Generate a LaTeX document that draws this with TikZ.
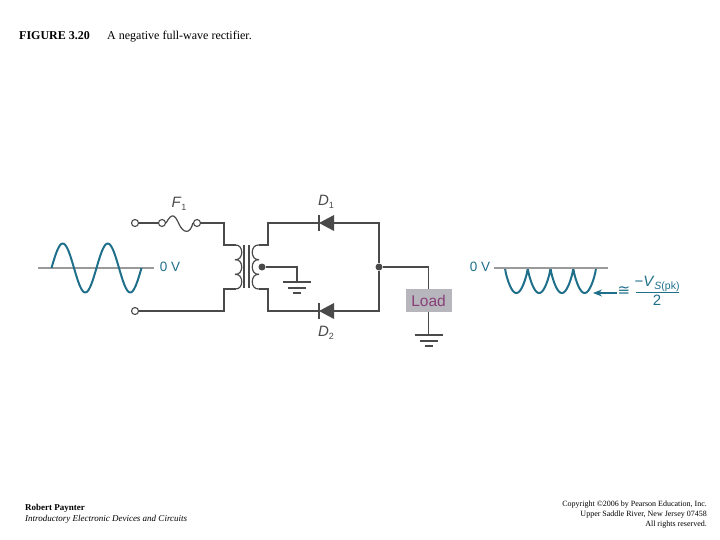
\documentclass[tikz,border=0pt]{standalone}
\usepackage{amsmath,amssymb}
\usepackage{fontspec}
\setmainfont{Liberation Serif}
\setsansfont{Liberation Sans}
\newfontfamily\symfont{DejaVu Sans}
\usepackage{tikz}
\usetikzlibrary{arrows.meta}
\definecolor{wave}{HTML}{1F6F8B}
\definecolor{wire}{HTML}{4A4A4A}
\definecolor{axis}{HTML}{9A9A9A}
\definecolor{loadbox}{HTML}{B6B6BC}
\definecolor{loadtext}{HTML}{8A3F78}
\tikzset{
	terminal/.style={
		inner sep = 0pt,
		minimum size = 7pt,
		shape = circle,
		draw = wire,
		line width = 1.1pt,
		fill = white
	},
	junction/.style={
		inner sep = 0pt,
		minimum size = 7pt,
		shape = circle,
		fill = wire
	},
	w/.style={
		draw = wire,
		line width = 1.2pt
	},
	trace/.style={
		draw = wave,
		line width = 2pt,
		line join = round
	},
	lab/.style={
		font = \sffamily\fontsize{15}{15}\selectfont,
		text = wire,
		inner sep = 0pt
	},
	volt/.style={
		font = \sffamily\fontsize{13.5}{14}\selectfont,
		text = wave,
		inner sep = 0pt
	},
	head/.style={
		inner sep = 0pt,
		font = \fontsize{12}{13}\selectfont
	},
	foot/.style={
		inner sep = 0pt,
		font = \fontsize{8}{9}\selectfont
	},
	bookline/.style={
		inner sep = 0pt,
		font = \fontsize{9}{10}\selectfont
	},
}
\tikzset{>=stealth}

\begin{document}
\begin{tikzpicture}[x=1pt, y=-1pt]
    \useasboundingbox (0,0) rectangle (720,540);
    % heading and footer
    \node[head, anchor=base west] (title) at (19,40) {\bfseries FIGURE 3.20};
    \node[head, anchor=base west] (caption) at (107,40) {A negative full-wave rectifier.};
    \node[bookline, anchor=base west] (author) at (25,510) {\bfseries Robert Paynter};
    \node[bookline, anchor=base west] (book) at (25,521) {\itshape Introductory Electronic Devices and Circuits};
    \node[foot, anchor=base east] (copy1) at (707,506) {Copyright \textcopyright 2006 by Pearson Education, Inc.};
    \node[foot, anchor=base east] (copy2) at (707,516) {Upper Saddle River, New Jersey 07458};
    \node[foot, anchor=base east] (copy3) at (707,526) {All rights reserved.};
    % input wave
    \coordinate (ia) at (38,268);
    \coordinate (ib) at (154,268);
    \draw[axis, line width=1.1pt] (ia) -- (ib);
    \draw[trace, smooth] plot[domain=0:720, samples=73] ({51.5+\x/8}, {268-24.5*sin(\x)});
    \node[volt] (v0in) at (170,267) {0 V};
    % input side
    \node[terminal] (t1) at (135,223) {};
    \node[terminal] (t2) at (135,311) {};
    \node[terminal] (f1) at (162,223) {};
    \node[terminal] (f2) at (197,223) {};
    \node[lab] (fl) at (179,204) {\textit{F}\raisebox{-0.45ex}{\fontsize{9}{9}\selectfont 1}};
    \coordinate (p1) at (236,245);
    \coordinate (p2) at (236,289);
    \draw[w] (t1) -- (f1);
    \draw[w] (f1.east) .. controls (172,212) and (175,215) .. (179,224) .. controls (183,233) and (190,235) .. (f2.west);
    \draw[w] (f2) -- (224,223) -- (224,245) -- (p1);
    \draw[w] (t2) -- (224,311) -- (224,289) -- (p2);
    % transformer
    \foreach \y in {245, 259.67, 274.33}{
      \draw[w] (235,\y) .. controls (244,\y-1) and (244,\y+15.67) .. (235,\y+14.67);
      \draw[w] (259,\y) .. controls (250,\y-1) and (250,\y+15.67) .. (259,\y+14.67);
    }
    \foreach \x in {243.5, 248.5}{
      \draw[draw=wire, line width=2pt] (\x,245) -- (\x,288);
    }
    \coordinate (s1) at (259,245);
    \coordinate (s2) at (259,289);
    \node[junction] (tap) at (262,267) {};
    \coordinate (gnd1) at (297,282);
    \draw[w] (tap) -- (297,267) -- (gnd1);
    % diodes
    \node[lab] (d1l) at (326,202) {\textit{D}\raisebox{-0.45ex}{\fontsize{9}{9}\selectfont 1}};
    \node[lab] (d2l) at (326,333) {\textit{D}\raisebox{-0.45ex}{\fontsize{9}{9}\selectfont 2}};
    \node[junction] (out) at (379,267) {};
    \foreach \y in {223, 311}{
      \fill[wire] (319,\y) -- (334,\y-8) -- (334,\y+8) -- cycle;
      \draw[w] (319,\y-8) -- (319,\y+8);
      \draw[w] (334,\y) -- (379,\y) -- (out);
    }
    \draw[w] (s1) -- (268,245) -- (268,223) -- (319,223);
    \draw[w] (s2) -- (268,289) -- (268,311) -- (319,311);
    % load
    \coordinate (gnd2) at (428.5,335);
    \draw[w] (out) -| (gnd2);
    \node[fill=loadbox, minimum width=46pt, minimum height=23pt, inner sep=0pt, text=loadtext,
      font=\sffamily\fontsize{15.5}{16}\selectfont] (load) at (428.5,300.5) {Load};
    % grounds
    \foreach \x/\y in {297/282, 428.5/335}{
      \draw[w] (\x-14,\y) -- (\x+14,\y);
      \draw[w] (\x-9,\y+6) -- (\x+9,\y+6);
      \draw[w] (\x-4,\y+11) -- (\x+4,\y+11);
    }
    % output wave
    \node[volt] (v0out) at (480,267) {0 V};
    \draw[trace] plot[domain=0:720, samples=145] ({505+\x/7.91}, {268+25*abs(sin(\x))^0.75});
    \coordinate (oa) at (494,268);
    \coordinate (ob) at (608,268);
    \draw[axis, line width=1.1pt] (oa) -- (ob);
    \coordinate (tip) at (593,293);
    \coordinate (tail) at (617,293);
    \draw[draw=wave, line width=1.1pt, -{Stealth[length=9pt,width=7pt]}] (tail) -- (tip);
    \node[volt, font=\symfont\fontsize{15}{16}\selectfont] (approx) at (624,291) {≅};
    \node[volt, font=\sffamily\fontsize{15}{16}\selectfont, anchor=base] (num) at (657,286) {−\textit{V}\raisebox{-0.45ex}{\fontsize{10.5}{11}\selectfont\textit{S}(pk)}};
    \node[volt, font=\sffamily\fontsize{15}{16}\selectfont, anchor=base] (den) at (657,305) {2};
    \coordinate (fa) at (636,292.5);
    \coordinate (fb) at (679,292.5);
    \draw[draw=wave, line width=1pt] (fa) -- (fb);
\end{tikzpicture}
\end{document}
